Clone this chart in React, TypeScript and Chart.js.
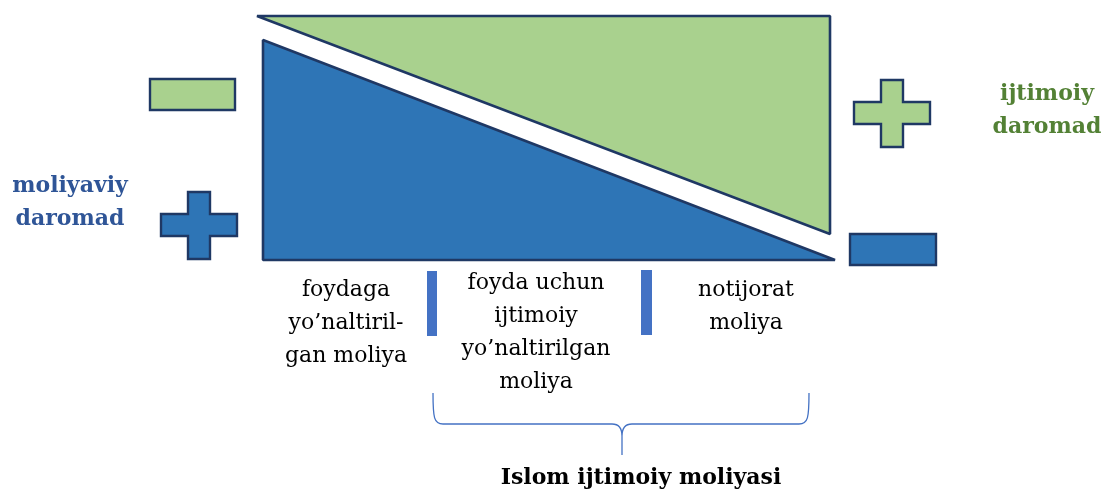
import React, { useEffect, useRef } from "react";
import { Chart, registerables } from "chart.js";

Chart.register(...registerables);

const WIDTH = 1103;
const HEIGHT = 490;

// Diagram shapes (vertices in diagram units)
const greenTriangle = [[257, 16], [830, 16], [830, 234]];
const blueTriangle = [[263, 40], [263, 260], [835, 260]];
const greenMinus = [[150, 79], [235, 79], [235, 110], [150, 110]];
const bluePlus = [[188, 192], [210, 192], [210, 214], [237, 214], [237, 236], [210, 236], [210, 259], [188, 259], [188, 236], [161, 236], [161, 214], [188, 214]];
const greenPlus = [[881, 80], [903, 80], [903, 102], [930, 102], [930, 124], [903, 124], [903, 147], [881, 147], [881, 124], [854, 124], [854, 102], [881, 102]];
const blueMinus = [[850, 234], [936, 234], [936, 265], [850, 265]];
const separatorLeft = [[427, 271], [437, 271], [437, 336], [427, 336]];
const separatorRight = [[641, 270], [652, 270], [652, 335], [641, 335]];
const braceX = [433, 622, 809];
const braceY = [393, 424, 455];

// Texts
const categoryLabels = [
  ["foydaga", "yo\u2019naltiril-", "gan moliya"],
  ["foyda uchun", "ijtimoiy", "yo\u2019naltirilgan", "moliya"],
  ["notijorat", "moliya"],
];
const financialIncome = ["moliyaviy", "daromad"];
const socialIncome = ["ijtimoiy", "daromad"];
const braceTitle = "Islom ijtimoiy moliyasi";

// Text anchors
const categoryAnchorX = [346, 536, 746];
const categoryAnchorY = [296, 289, 296];
const financialAnchor = [70, 192];
const socialAnchor = [1047, 100];
const titleAnchor = [641, 484];
const LINE_STEP = 33;
const LABEL_STEP = 33;

const GREEN = "#A9D18E";
const BLUE = "#2E75B6";
const NAVY = "#1F3864";
const SEP = "#4472C4";

function poly(pts: number[][], bg: string, border: string, bw: number, join: string = "miter") {
  return {
    data: [...pts, pts[0], pts[1]].map(([x, y]) => ({ x, y })),
    showLine: true,
    fill: "shape",
    backgroundColor: bg,
    borderColor: border,
    borderWidth: bw,
    pointRadius: 0,
    pointHoverRadius: 0,
    tension: 0,
    borderJoinStyle: join,
  };
}

const textPlugin = {
  id: "diagramText",
  afterDatasetsDraw(chart: any) {
    const { ctx } = chart;
    const xs = chart.scales.x;
    const ys = chart.scales.y;
    const px = (v: number) => xs.getPixelForValue(v);
    const py = (v: number) => ys.getPixelForValue(v);
    ctx.save();
    // brace
    const [x0, xm, x1] = braceX.map(px);
    const [y0, ym, y1] = braceY.map(py);
    ctx.strokeStyle = SEP;
    ctx.lineWidth = 1.3;
    ctx.beginPath();
    ctx.moveTo(x0, y0);
    ctx.bezierCurveTo(x0, ym - 6, x0 + 1, ym, x0 + 10, ym);
    ctx.lineTo(xm - 10, ym);
    ctx.quadraticCurveTo(xm, ym, xm, ym + 12);
    ctx.lineTo(xm, y1);
    ctx.moveTo(xm, ym + 12);
    ctx.quadraticCurveTo(xm, ym, xm + 10, ym);
    ctx.lineTo(x1 - 10, ym);
    ctx.bezierCurveTo(x1 - 1, ym, x1, ym - 6, x1, y0);
    ctx.stroke();

    ctx.textAlign = "center";
    ctx.textBaseline = "alphabetic";
    ctx.fillStyle = "#000000";
    ctx.font = '22px "DejaVu Serif"';
    categoryLabels.forEach((lines, i) => {
      lines.forEach((t, j) => {
        ctx.fillText(t, px(categoryAnchorX[i]), py(categoryAnchorY[i] + j * LINE_STEP));
      });
    });
    ctx.font = 'bold 22px "DejaVu Serif"';
    ctx.fillStyle = "#2F5597";
    financialIncome.forEach((t, j) => ctx.fillText(t, px(financialAnchor[0]), py(financialAnchor[1] + j * LABEL_STEP)));
    ctx.fillStyle = "#538135";
    socialIncome.forEach((t, j) => ctx.fillText(t, px(socialAnchor[0]), py(socialAnchor[1] + j * LABEL_STEP)));
    ctx.fillStyle = "#000000";
    ctx.fillText(braceTitle, px(titleAnchor[0]), py(titleAnchor[1]));
    ctx.restore();
  },
};

export default function App() {
  const canvasRef = useRef<HTMLCanvasElement | null>(null);

  useEffect(() => {
    if (!canvasRef.current) return;
    const chart = new Chart(canvasRef.current, {
      type: "scatter",
      data: {
        datasets: [
          poly(greenTriangle, GREEN, NAVY, 2.6, "bevel"),
          poly(blueTriangle, BLUE, NAVY, 2.6, "bevel"),
          poly(greenMinus, GREEN, NAVY, 2.4),
          poly(bluePlus, BLUE, NAVY, 2.4),
          poly(greenPlus, GREEN, NAVY, 2.4),
          poly(blueMinus, BLUE, NAVY, 2.4),
          poly(separatorLeft, SEP, SEP, 0),
          poly(separatorRight, SEP, SEP, 0),
        ] as any,
      },
      options: {
        animation: false,
        responsive: true,
        maintainAspectRatio: false,
        layout: { padding: 0 },
        events: [],
        plugins: {
          legend: { display: false },
          tooltip: { enabled: false },
        },
        scales: {
          x: { type: "linear", min: 0, max: WIDTH, display: false },
          y: { type: "linear", min: 0, max: HEIGHT, reverse: true, display: false },
        },
      },
      plugins: [textPlugin],
    });
    return () => chart.destroy();
  }, []);

  return (
    <div style={{ position: "fixed", left: 0, top: 0, width: WIDTH, height: HEIGHT, background: "#ffffff" }}>
      <canvas ref={canvasRef} />
    </div>
  );
}
